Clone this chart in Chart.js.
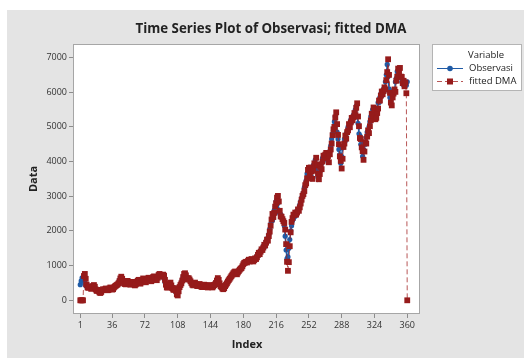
<!DOCTYPE html>
<html>
<head>
<meta charset="utf-8">
<script src="https://cdn.jsdelivr.net/npm/chart.js@4"></script>
<style>
  html, body { margin: 0; padding: 0; background: #fff; }
  canvas { display: block; }
</style>
</head>
<body>
<canvas id="chart" width="524" height="358"></canvas>
<script>
// values, index 1..360
const observasi = [
  450,560,650,620,560,500,430,400,380,410,390,350,370,400,420,380,330,300,320,290,
  260,240,250,280,300,290,310,330,320,300,310,330,350,340,320,330,360,380,400,420,
  440,470,520,580,620,600,560,520,500,480,510,540,520,490,470,500,520,500,470,450,
  470,500,540,560,520,500,530,570,600,590,560,540,570,600,620,600,580,560,600,640,
  660,640,610,600,640,690,720,700,690,710,720,700,620,520,450,420,400,450,480,430,
  380,350,330,360,300,230,200,280,350,400,450,520,600,680,720,700,660,630,650,610,
  580,540,500,470,480,500,470,440,430,450,460,430,410,400,420,440,430,410,400,390,
  410,430,420,400,390,410,430,450,480,530,590,560,500,450,420,380,360,370,400,430,
  460,500,540,580,620,660,700,740,770,800,780,760,790,820,850,880,900,940,990,1040,
  1060,1100,1080,1120,1150,1110,1140,1180,1150,1130,1170,1200,1180,1230,1280,1330,1300,1380,1440,1420,
  1500,1560,1540,1620,1700,1680,1800,1900,2050,2200,2350,2300,2450,2600,2700,2850,2920,2800,2600,2500,
  2480,2400,2350,2300,2150,1850,1450,1200,1250,1500,1750,2000,2150,2300,2350,2450,2420,2500,2580,2550,
  2650,2750,2850,2950,3000,3100,3250,3300,3450,3650,3700,3600,3800,3700,3550,3750,3900,3850,4050,3900,
  3700,3550,3650,3800,3750,3950,4100,4050,4150,4200,4100,4150,4000,4200,4300,4450,4650,4800,4900,5150,
  5300,5050,4850,4650,4350,4200,3950,4150,4400,4450,4650,4600,4800,4850,5000,4950,5100,5200,5150,5250,
  5350,5300,5500,5600,5300,5100,4800,4750,4500,4400,4150,4350,4550,4500,4700,4850,4800,5000,5150,5300,
  5300,5500,5450,5250,5300,5400,5500,5700,5700,5850,5950,5900,6000,6100,6050,6300,6500,6800,6450,6100,
  5850,5750,5900,5950,6050,6000,6300,6400,6600,6550,6650,6450,6450,6300,6350,6200,6300,6250,6200,6300
];

const fittedDMA = [
  0,0,0,0,700,760,620,450,370,360,400,380,330,350,410,440,390,310,270,300,
  270,230,210,240,290,320,300,310,340,330,290,300,340,370,350,310,320,370,400,420,
  440,460,490,550,630,680,620,550,490,470,460,510,560,530,480,450,490,530,510,460,
  430,460,510,560,590,530,480,520,590,630,610,550,520,570,620,650,610,570,550,610,
  670,690,650,590,580,650,730,760,710,680,710,740,710,590,450,370,370,380,460,510,
  430,350,310,300,350,280,170,140,260,380,440,490,570,670,760,780,720,640,600,640,
  600,550,500,450,430,470,510,470,420,410,450,470,430,390,380,420,450,430,400,380,
  370,400,440,420,390,370,400,440,460,500,570,640,590,490,410,380,340,320,350,410,
  450,490,540,580,620,660,700,740,780,810,830,790,750,800,840,880,910,930,980,1040,
  1080,1090,1110,1090,1130,1170,1120,1140,1190,1160,1120,1160,1210,1190,1240,1310,1370,1330,1400,1470,
  1450,1520,1600,1580,1660,1750,1720,1850,1980,2150,2330,2490,2400,2520,2700,2800,2960,3010,2850,2580,
  2420,2410,2340,2280,2230,2040,1620,1110,850,1100,1560,1960,2260,2370,2470,2460,2530,2470,2530,2620,
  2580,2680,2790,2900,3010,3060,3150,3320,3370,3520,3760,3820,3620,3830,3720,3500,3740,3950,3890,4110,
  3920,3650,3490,3640,3850,3780,4000,4170,4100,4200,4250,4100,4160,3980,4210,4350,4520,4760,4930,5000,
  5270,5420,5080,4770,4500,4150,4020,3800,4080,4420,4520,4750,4660,4850,4900,5080,4990,5130,5260,5190,
  5280,5400,5330,5550,5680,5300,5020,4680,4650,4410,4300,4050,4290,4560,4520,4720,4900,4820,5020,5190,
  5380,5320,5560,5500,5220,5260,5400,5530,5760,5760,5900,6020,5940,6030,6140,6080,6350,6580,6950,6500,
  5980,5700,5620,5850,5960,6080,6010,6330,6450,6680,6600,6700,6450,6440,6260,6330,6170,6280,5970,0
];

const xTicks = [1, 36, 72, 108, 144, 180, 216, 252, 288, 324, 360];
const yTicks = [0, 1000, 2000, 3000, 4000, 5000, 6000, 7000];

const index = observasi.map((_, i) => i + 1);

const FONT = "'Open Sans', 'Noto Sans', sans-serif";
const BLUE = "#1f5ba6";
const RED = "#961b1b";

// grey panel, white plot area, frame, title, axis titles and legend
const minitabFrame = {
  id: "minitabFrame",
  beforeDraw(chart) {
    const { ctx, chartArea: a } = chart;
    ctx.save();
    ctx.fillStyle = "#fff";
    ctx.fillRect(0, 0, 524, 358);
    ctx.fillStyle = "#e4e4e4";
    ctx.fillRect(7, 10, 517, 348);
    ctx.fillStyle = "#fff";
    ctx.fillRect(a.left, a.top, a.right - a.left, a.bottom - a.top);
    ctx.restore();
  },
  afterDraw(chart) {
    const { ctx, chartArea: a } = chart;
    ctx.save();
    ctx.strokeStyle = "#a6a6a6";
    ctx.lineWidth = 1;
    ctx.strokeRect(a.left + 0.5, a.top + 0.5, a.right - a.left - 1, a.bottom - a.top - 1);

    // title
    ctx.fillStyle = "#222";
    ctx.font = "bold 13.3px " + FONT;
    ctx.textAlign = "center";
    ctx.textBaseline = "middle";
    ctx.fillText("Time Series Plot of Observasi; fitted DMA", 271, 29);

    // axis titles
    ctx.font = "bold 11px " + FONT;
    ctx.fillText("Index", 247, 345);
    ctx.save();
    ctx.translate(34, 179);
    ctx.rotate(-Math.PI / 2);
    ctx.fillText("Data", 0, 0);
    ctx.restore();

    // legend box
    ctx.fillStyle = "#fff";
    ctx.fillRect(432.5, 44.5, 89, 46);
    ctx.strokeStyle = "#b4b4b4";
    ctx.strokeRect(432.5, 44.5, 89, 46);
    ctx.fillStyle = "#222";
    ctx.font = "9.5px " + FONT;
    ctx.textAlign = "left";
    ctx.fillText("Variable", 468, 55);
    ctx.fillText("Observasi", 469, 68);
    ctx.fillText("fitted DMA", 469, 81.5);

    ctx.strokeStyle = BLUE;
    ctx.beginPath();
    ctx.moveTo(437, 68.5);
    ctx.lineTo(463, 68.5);
    ctx.stroke();
    ctx.fillStyle = BLUE;
    ctx.beginPath();
    ctx.arc(450, 68.5, 2.8, 0, Math.PI * 2);
    ctx.fill();

    ctx.strokeStyle = "rgba(160,30,30,0.75)";
    ctx.setLineDash([5, 3]);
    ctx.beginPath();
    ctx.moveTo(437, 81.5);
    ctx.lineTo(463, 81.5);
    ctx.stroke();
    ctx.setLineDash([]);
    ctx.fillStyle = RED;
    ctx.fillRect(447, 78.5, 6, 6);
    ctx.restore();
  }
};

new Chart(document.getElementById("chart"), {
  type: "line",
  data: {
    datasets: [
      {
        label: "fitted DMA",
        data: index.map((x, i) => ({ x, y: fittedDMA[i] })),
        borderColor: "rgba(160,30,30,0.75)",
        borderWidth: 1,
        borderDash: [5, 3],
        pointStyle: "rect",
        pointRadius: 4.1,
        pointBorderWidth: 0,
        pointBackgroundColor: RED,
        pointBorderColor: RED,
        tension: 0
      },
      {
        label: "Observasi",
        data: index.map((x, i) => ({ x, y: observasi[i] })),
        borderColor: BLUE,
        borderWidth: 1.5,
        pointStyle: "circle",
        pointRadius: 2.6,
        pointBorderWidth: 0,
        pointBackgroundColor: BLUE,
        pointBorderColor: BLUE,
        tension: 0
      }
    ]
  },
  options: {
    responsive: false,
    animation: false,
    devicePixelRatio: 1,
    layout: { padding: { left: 0, top: 44, right: 104, bottom: 0 } },
    plugins: {
      legend: { display: false },
      tooltip: { enabled: false }
    },
    scales: {
      x: {
        type: "linear",
        min: -7,
        max: 374,
        afterBuildTicks: (s) => { s.ticks = xTicks.map((v) => ({ value: v })); },
        afterFit: (s) => { s.height = 44; },
        grid: { drawOnChartArea: false, drawTicks: true, tickLength: 4, color: "#8c8c8c" },
        border: { display: false },
        ticks: {
          font: { family: FONT, size: 9 },
          color: "#333",
          padding: 2,
          maxRotation: 0,
          autoSkip: false,
          callback: (v) => String(v)
        }
      },
      y: {
        type: "linear",
        min: -395,
        max: 7390,
        afterBuildTicks: (s) => { s.ticks = yTicks.map((v) => ({ value: v })); },
        afterFit: (s) => { s.width = 73; },
        grid: { drawOnChartArea: false, drawTicks: true, tickLength: 4, color: "#8c8c8c" },
        border: { display: false },
        ticks: {
          font: { family: FONT, size: 9 },
          color: "#333",
          padding: 2,
          autoSkip: false,
          callback: (v) => String(v)
        }
      }
    }
  },
  plugins: [minitabFrame]
});
</script>
</body>
</html>
